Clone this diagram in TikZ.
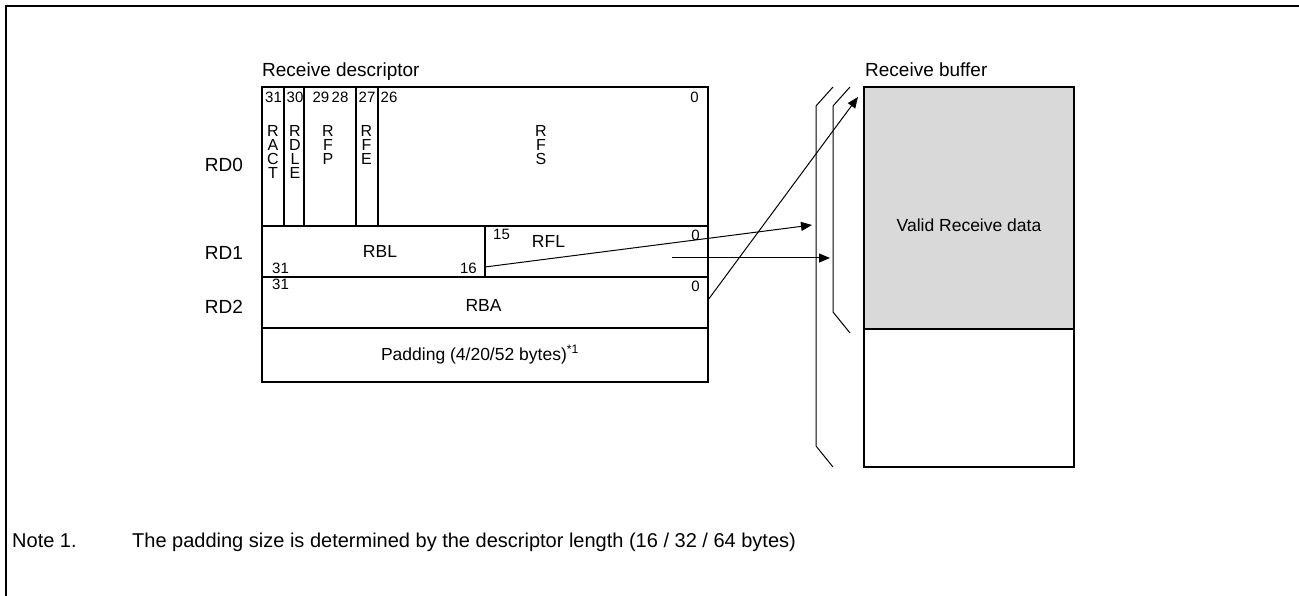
\documentclass[tikz,border=0pt]{standalone}
\usepackage{fontspec}
\setmainfont{Liberation Sans}
\usetikzlibrary{arrows.meta}
\definecolor{bufgray}{RGB}{217,217,217}
\begin{document}
\begin{tikzpicture}[x=1pt,y=-1pt,
  cell/.style={draw, line width=2pt, inner sep=0pt, outer sep=0pt},
  ttl/.style={inner sep=0pt, font=\fontsize{19}{22}\selectfont},
  lbl/.style={inner sep=0pt, font=\fontsize{17.5}{20}\selectfont},
  notef/.style={inner sep=0pt, font=\fontsize{20}{24}\selectfont},
  num/.style={inner sep=0pt, font=\fontsize{15}{17}\selectfont},
  stack/.style={inner sep=0pt, align=center, font=\fontsize{16}{14}\selectfont, anchor=north},
  arr/.style={line width=1pt, -{Triangle[length=11pt,width=9pt]}},
  brk/.style={line width=1pt}
]
\useasboundingbox (0,0) rectangle (1299,596);
\draw[line width=2.3pt] (6,596) -- (6,6) -- (1299,6);

% descriptor cells
\node[cell, minimum width=22pt, minimum height=139pt] (ract) at (273,156.5) {};
\node[cell, minimum width=20pt, minimum height=139pt] (rdle) at (294,156.5) {};
\node[cell, minimum width=52pt, minimum height=139pt] (rfp) at (330,156.5) {};
\node[cell, minimum width=22pt, minimum height=139pt] (rfe) at (367,156.5) {};
\node[cell, minimum width=330pt, minimum height=139pt] (rfs) at (543,156.5) {};
\node[cell, minimum width=223pt, minimum height=51pt] (rbl) at (373.5,251.5) {};
\node[cell, minimum width=223pt, minimum height=51pt] (rfl) at (596.5,251.5) {};
\node[cell, minimum width=446pt, minimum height=51pt] (rba) at (485,302.5) {};
\node[cell, minimum width=446pt, minimum height=54pt] (pad) at (485,355) {};

% buffer
\node[cell, fill=bufgray, minimum width=210pt, minimum height=242pt] (valid) at (969,208) {};
\node[cell, minimum width=210pt, minimum height=138pt] (empty) at (969,398) {};

% titles
\node[ttl, anchor=base west] (tdesc) at (262,77) {Receive descriptor};
\node[ttl, anchor=base west] (tbuf) at (865,77) {Receive buffer};
\node[ttl, anchor=base] (rd0) at (224,172) {RD0};
\node[ttl, anchor=base] (rd1) at (224,260) {RD1};
\node[ttl, anchor=base] (rd2) at (224,313) {RD2};

% RD0 bit numbers
\node[num, anchor=base west] (b31) at (265,103) {31};
\node[num, anchor=base west] (b30) at (286.5,103) {30};
\node[num, anchor=base] (b2928) at (330.5,103) {29\,28};
\node[num, anchor=base west] (b27) at (358.5,103) {27};
\node[num, anchor=base west] (b26) at (380.5,103) {26};
\node[num, anchor=base east] (b0a) at (699,103) {0};

% RD0 field names
\node[stack] (nract) at (273,125) {R\\A\\C\\T};
\node[stack] (nrdle) at (295,125) {R\\D\\L\\E};
\node[stack] (nrfp) at (328,125) {R\\F\\P};
\node[stack] (nrfe) at (366.5,125) {R\\F\\E};
\node[stack] (nrfs) at (541,125) {R\\F\\S};

% RD1
\node[lbl, anchor=base] (trbl) at (380,258) {RBL};
\node[num, anchor=base west] (c31) at (272,273) {31};
\node[num, anchor=base east] (c16) at (477,273) {16};
\node[num, anchor=base west] (c15) at (493,240) {15};
\node[lbl, anchor=base] (trfl) at (548.5,248) {RFL};
\node[num, anchor=base east] (c0) at (700,241) {0};

% RD2
\node[num, anchor=base west] (d31) at (272,289) {31};
\node[num, anchor=base east] (d0) at (700,291) {0};
\node[lbl, anchor=base] (trba) at (483.5,312) {RBA};
\node[lbl, anchor=base] (tpad) at (480,360) {Padding (4/20/52 bytes)\textsuperscript{*1}};

\node[lbl, anchor=base] (tvalid) at (969,232) {Valid Receive data};

% break lines
\draw[brk] (833,87) -- (816,106) -- (816,446) -- (833,467);
\draw[brk] (850,87) -- (833,106) -- (833,312) -- (850,333);

% arrows
\coordinate (t1) at (812,225);
\coordinate (s2) at (672,258);
\coordinate (t2) at (830,258);
\coordinate (t3) at (858,97);
\draw[arr] ([yshift=10pt]rfl.south west) -- (t1);
\draw[arr] (s2) -- (t2);
\draw[arr] ([yshift=2.5pt]rba.east) -- (t3);

% note
\node[notef, anchor=base west] (note1) at (12,547) {Note 1.};
\node[notef, anchor=base west] (note2) at (132,547) {The padding size is determined by the descriptor length (16 / 32 / 64 bytes)};
\end{tikzpicture}
\end{document}
